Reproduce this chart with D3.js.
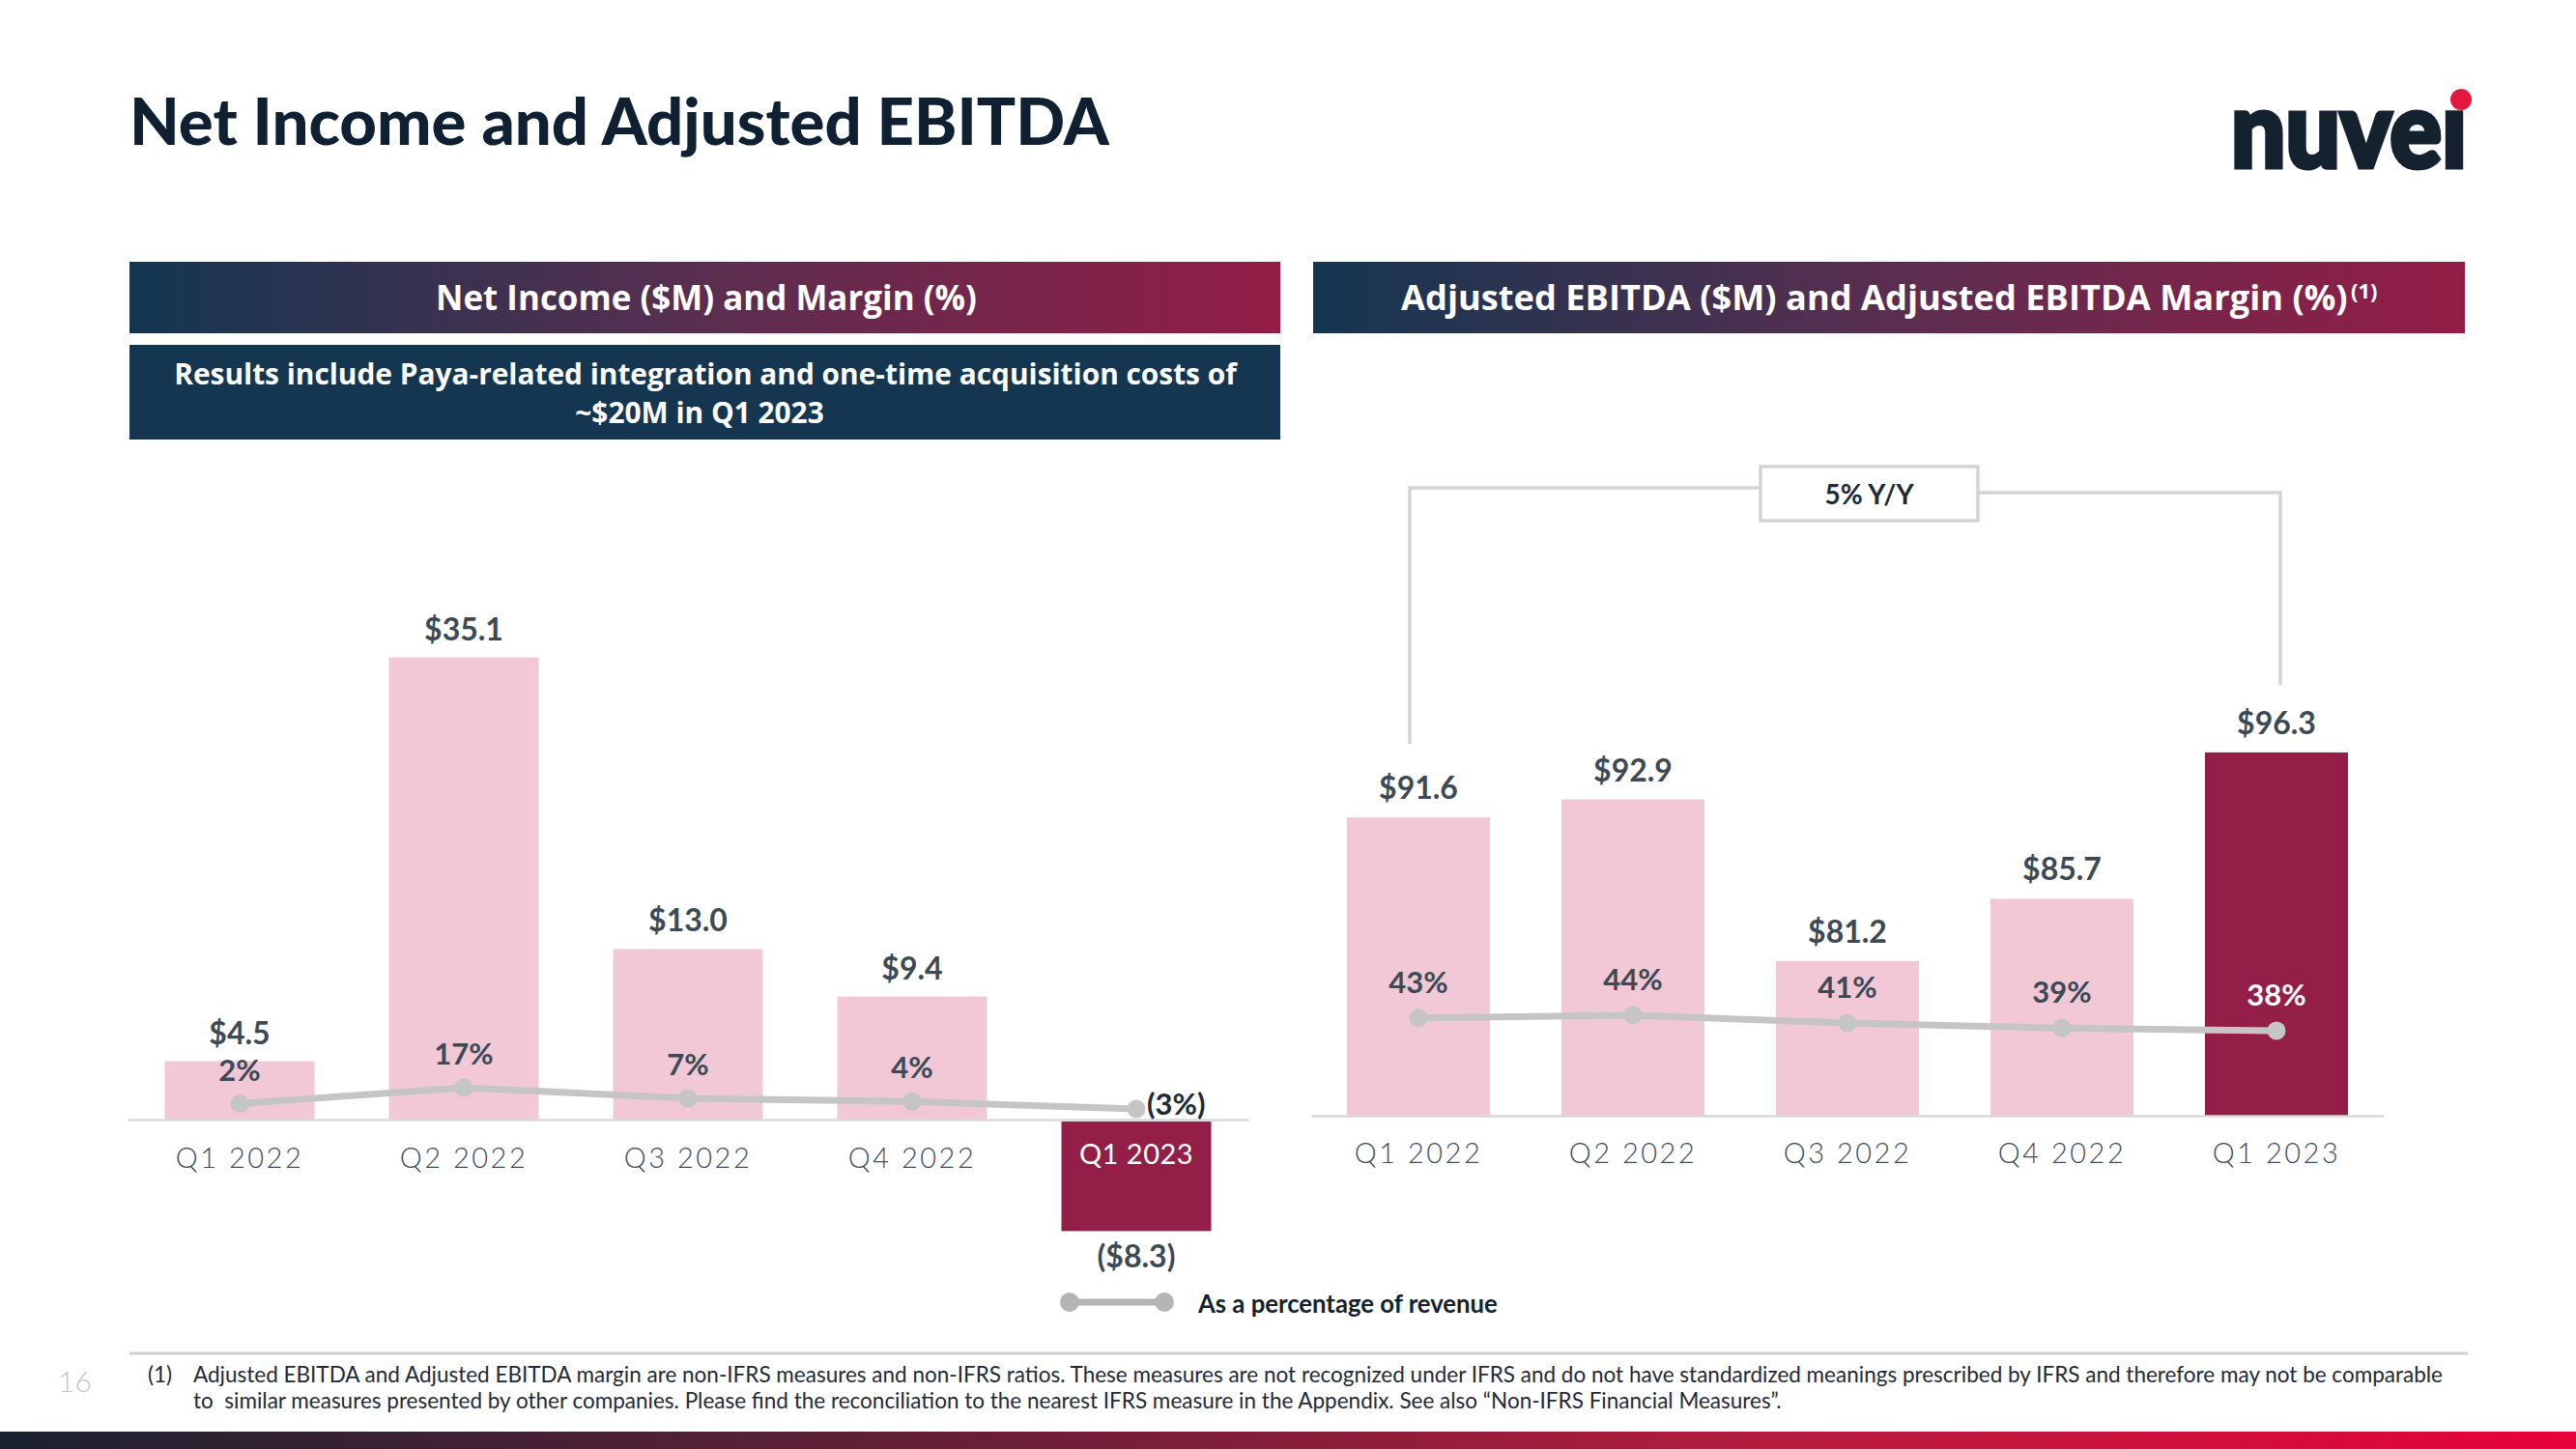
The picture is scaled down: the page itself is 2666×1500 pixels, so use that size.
<!DOCTYPE html>
<html><head><meta charset="utf-8">
<script src="https://cdn.jsdelivr.net/npm/d3@7"></script>
<style>
body{margin:0;background:#fff;}
svg{display:block;font-family:Lato,'Open Sans',sans-serif;}
</style>
</head><body>
<svg id="c" width="2666" height="1500"></svg>
<script>
// ---------- data ----------
const quarters = ["Q1 2022", "Q2 2022", "Q3 2022", "Q4 2022", "Q1 2023"];
const netIncome = [4.5, 35.1, 13.0, 9.4, -8.3];
const netMargin = [2, 17, 7, 4, -3];
const ebitda = [91.6, 92.9, 81.2, 85.7, 96.3];
const ebitdaMargin = [43, 44, 41, 39, 38];
const netIncomeLabels = ["$4.5", "$35.1", "$13.0", "$9.4", "($8.3)"];
const netMarginLabels = ["2%", "17%", "7%", "4%", "(3%)"];
const ebitdaLabels = ["$91.6", "$92.9", "$81.2", "$85.7", "$96.3"];
const ebitdaMarginLabels = ["43%", "44%", "41%", "39%", "38%"];
const growthLabel = "5% Y/Y";

const PINK = "#f2c8d6", MAROON = "#931e48", TXT = "#3b4a55", LINE = "#c5c5c5";
const HF = "'Open Sans', Lato, sans-serif";
const svg = d3.select("#c");

function fit(sel, w) {
  const fs = parseFloat(sel.attr("font-size"));
  const L = sel.node().getComputedTextLength();
  sel.attr("font-size", fs * w / L);
  return sel;
}

// ---------- gradients ----------
const defs = svg.append("defs");
const g1 = defs.append("linearGradient").attr("id", "hdr");
g1.append("stop").attr("offset", "0%").attr("stop-color", "#133650");
g1.append("stop").attr("offset", "50%").attr("stop-color", "#5a2e50");
g1.append("stop").attr("offset", "100%").attr("stop-color", "#931d46");
const g2 = defs.append("linearGradient").attr("id", "bot");
g2.append("stop").attr("offset", "0%").attr("stop-color", "#1b2230");
g2.append("stop").attr("offset", "40%").attr("stop-color", "#6d1f38");
g2.append("stop").attr("offset", "70%").attr("stop-color", "#b81c3e");
g2.append("stop").attr("offset", "100%").attr("stop-color", "#e6023b");

// ---------- title & logo ----------
fit(svg.append("text").attr("x", 134).attr("y", 150).attr("font-size", 64)
  .attr("font-weight", 900).attr("fill", "#0e2031").text("Net Income and Adjusted EBITDA"), 1014);

svg.append("text").attr("x", 2309).attr("y", 173).attr("font-size", 108)
  .attr("font-weight", 900).attr("fill", "#14212e").attr("stroke", "#14212e").attr("stroke-width", 5)
  .attr("textLength", 244).attr("lengthAdjust", "spacingAndGlyphs").text("nuv\u0065\u0131");
svg.append("circle").attr("cx", 2547).attr("cy", 103).attr("r", 11).attr("fill", "#e4173e");

// ---------- headers ----------
svg.append("rect").attr("x", 134).attr("y", 271).attr("width", 1191).attr("height", 74).attr("fill", "url(#hdr)");
fit(svg.append("text").attr("x", 731).attr("y", 321).attr("text-anchor", "middle").attr("font-size", 31)
  .attr("font-family", HF).attr("font-weight", 700).attr("fill", "#fff").text("Net Income ($M) and Margin (%)"), 560);

svg.append("rect").attr("x", 134).attr("y", 357).attr("width", 1191).attr("height", 98).attr("fill", "#143650");
const nb1 = fit(svg.append("text").attr("x", 730).attr("y", 398).attr("text-anchor", "middle").attr("font-size", 27)
  .attr("font-family", HF).attr("font-weight", 700).attr("fill", "#fff")
  .text("Results include Paya-related integration and one-time acquisition costs of"), 1100);
svg.append("text").attr("x", 724).attr("y", 438).attr("text-anchor", "middle").attr("font-size", nb1.attr("font-size"))
  .attr("font-family", HF).attr("font-weight", 700).attr("fill", "#fff").text("~$20M in Q1 2023");

svg.append("rect").attr("x", 1359).attr("y", 271).attr("width", 1192).attr("height", 74).attr("fill", "url(#hdr)");
fit(svg.append("text").attr("x", 1450).attr("y", 321).attr("font-size", 31)
  .attr("font-family", HF).attr("font-weight", 700).attr("fill", "#fff")
  .text("Adjusted EBITDA ($M) and Adjusted EBITDA Margin (%)"), 980);
svg.append("text").attr("x", 2433).attr("y", 309).attr("font-size", 22)
  .attr("font-family", HF).attr("font-weight", 700).attr("fill", "#fff").text("(1)");

// ---------- left chart ----------
const x1 = d3.scaleBand().domain(quarters).range([132, 1292]).paddingInner(0.332).paddingOuter(0.166);
const y1 = d3.scaleLinear().domain([-10, 40]).range([1160 + 136.6, 1160 - 546.4]);
const m1 = d3.scaleLinear().domain([-3, 17]).range([1148, 1126]);
const L = svg.append("g");
const cx1 = (i) => x1(quarters[i]) + x1.bandwidth() / 2;

L.selectAll("rect.bar").data(netIncome).join("rect").attr("class", "bar")
  .attr("x", (d, i) => x1(quarters[i])).attr("width", x1.bandwidth())
  .attr("y", d => d >= 0 ? y1(d) : y1(0) + 1)
  .attr("height", d => Math.abs(y1(d) - y1(0)))
  .attr("fill", (d, i) => i === 4 ? MAROON : PINK);

const ax1 = L.append("g").attr("transform", "translate(0,1159)")
  .call(d3.axisBottom(x1).tickSize(0).tickSizeOuter(0));
ax1.select(".domain").attr("stroke", "#d9d9d9").attr("stroke-width", 2.5);
ax1.selectAll(".tick text").attr("y", 40).attr("dy", "0.35em")
  .attr("font-family", "Lato").attr("font-weight", 300).attr("font-size", 29)
  .attr("letter-spacing", 2.5).attr("fill", "#3f4e59");
ax1.selectAll(".tick text").filter((d, i) => i === 4)
  .attr("y", 36).attr("fill", "#fff").attr("letter-spacing", 0.5).attr("font-weight", 400);

L.selectAll("text.val").data(netIncome).join("text").attr("class", "val")
  .attr("x", (d, i) => cx1(i)).attr("y", d => d >= 0 ? y1(d) - 18 : y1(d) + 39)
  .attr("text-anchor", "middle").attr("font-size", 32).attr("font-weight", 700).attr("fill", TXT)
  .text((d, i) => netIncomeLabels[i]);

L.append("path").datum(netMargin).attr("fill", "none").attr("stroke", LINE).attr("stroke-width", 7)
  .attr("d", d3.line().x((d, i) => cx1(i)).y(d => m1(d)));
L.selectAll("circle.pt").data(netMargin).join("circle").attr("class", "pt")
  .attr("cx", (d, i) => cx1(i)).attr("cy", d => m1(d)).attr("r", 9.5).attr("fill", LINE);
L.selectAll("text.pct").data(netMargin).join("text").attr("class", "pct")
  .attr("x", (d, i) => i === 4 ? cx1(i) + 11 : cx1(i))
  .attr("y", (d, i) => i === 4 ? m1(d) + 6 : m1(d) - 24)
  .attr("text-anchor", (d, i) => i === 4 ? "start" : "middle")
  .attr("font-size", 31).attr("font-weight", 700).attr("fill", (d, i) => i === 4 ? "#1d2b36" : TXT)
  .text((d, i) => netMarginLabels[i]);

// ---------- right chart ----------
const x2 = d3.scaleBand().domain(quarters).range([1357, 2467]).paddingInner(0.333).paddingOuter(0.1665);
const y2 = d3.scaleLinear().domain([70, 100]).range([1155, 1155 - 429]);
const m2 = d3.scaleLinear().domain([38, 44]).range([1067, 1051]);
const R = svg.append("g");
const cx2 = (i) => x2(quarters[i]) + x2.bandwidth() / 2;

R.selectAll("rect.bar").data(ebitda).join("rect").attr("class", "bar")
  .attr("x", (d, i) => x2(quarters[i])).attr("width", x2.bandwidth())
  .attr("y", d => y2(d)).attr("height", d => y2(70) - y2(d))
  .attr("fill", (d, i) => i === 4 ? MAROON : PINK);

const ax2 = R.append("g").attr("transform", "translate(0,1155)")
  .call(d3.axisBottom(x2).tickSize(0).tickSizeOuter(0));
ax2.select(".domain").attr("stroke", "#d9d9d9").attr("stroke-width", 2.5);
ax2.selectAll(".tick text").attr("y", 39).attr("dy", "0.35em")
  .attr("font-family", "Lato").attr("font-weight", 300).attr("font-size", 29)
  .attr("letter-spacing", 2.5).attr("fill", "#3f4e59");

R.selectAll("text.val").data(ebitda).join("text").attr("class", "val")
  .attr("x", (d, i) => cx2(i)).attr("y", d => y2(d) - 19)
  .attr("text-anchor", "middle").attr("font-size", 32).attr("font-weight", 700).attr("fill", TXT)
  .text((d, i) => ebitdaLabels[i]);

R.append("path").datum(ebitdaMargin).attr("fill", "none").attr("stroke", LINE).attr("stroke-width", 7)
  .attr("d", d3.line().x((d, i) => cx2(i)).y(d => m2(d)));
R.selectAll("circle.pt").data(ebitdaMargin).join("circle").attr("class", "pt")
  .attr("cx", (d, i) => cx2(i)).attr("cy", d => m2(d)).attr("r", 9.5).attr("fill", LINE);
R.selectAll("text.pct").data(ebitdaMargin).join("text").attr("class", "pct")
  .attr("x", (d, i) => cx2(i)).attr("y", d => m2(d) - 26)
  .attr("text-anchor", "middle").attr("font-size", 31).attr("font-weight", 700)
  .attr("fill", (d, i) => i === 4 ? "#fff" : TXT)
  .text((d, i) => ebitdaMarginLabels[i]);

// growth bracket
const bx0 = 1822, bx1 = 2047, by0 = 483, by1 = 539;
const brk = R.append("g").attr("fill", "none").attr("stroke", "#d4d4d4").attr("stroke-width", 3.5);
brk.append("path").attr("d", `M${cx2(0) - 9},${y2(ebitda[0]) - 76}V505H${bx0}`);
brk.append("path").attr("d", `M${bx1},510H${cx2(4) + 4}V${y2(ebitda[4]) - 70}`);
brk.append("rect").attr("x", bx0).attr("y", by0).attr("width", bx1 - bx0).attr("height", by1 - by0).attr("fill", "#fff");
R.append("text").attr("x", (bx0 + bx1) / 2).attr("y", 522).attr("text-anchor", "middle")
  .attr("font-size", 28).attr("font-weight", 700).attr("fill", "#1d2b36").text(growthLabel);

// ---------- legend ----------
svg.append("line").attr("x1", 1107).attr("x2", 1205).attr("y1", 1348).attr("y2", 1348)
  .attr("stroke", "#b5b5b5").attr("stroke-width", 7);
[1107, 1205].forEach(x => svg.append("circle").attr("cx", x).attr("cy", 1348).attr("r", 10).attr("fill", "#b5b5b5"));
fit(svg.append("text").attr("x", 1240).attr("y", 1359).attr("font-size", 25).attr("font-weight", 700)
  .attr("fill", "#14222f").text("As a percentage of revenue"), 310);

// ---------- footer ----------
svg.append("line").attr("x1", 134).attr("x2", 2554).attr("y1", 1401).attr("y2", 1401)
  .attr("stroke", "#d0d0d0").attr("stroke-width", 3);
svg.append("text").attr("x", 60).attr("y", 1441).attr("font-size", 30).attr("font-weight", 300)
  .attr("fill", "#c5c5c5").text("16");
const fn1 = fit(svg.append("text").attr("x", 200).attr("y", 1431).attr("font-size", 20).attr("fill", "#1f2a36")
  .text("Adjusted EBITDA and Adjusted EBITDA margin are non-IFRS measures and non-IFRS ratios. These measures are not recognized under IFRS and do not have standardized meanings prescribed by IFRS and therefore may not be comparable"), 2328);
svg.append("text").attr("x", 153).attr("y", 1431).attr("font-size", fn1.attr("font-size")).attr("fill", "#1f2a36").text("(1)");
svg.append("text").attr("x", 200).attr("y", 1458).attr("font-size", fn1.attr("font-size")).attr("fill", "#1f2a36")
  .attr("xml:space", "preserve")
  .text("to  similar measures presented by other companies. Please find the reconciliation to the nearest IFRS measure in the Appendix. See also \u201cNon-IFRS Financial Measures\u201d.");
svg.append("rect").attr("x", 0).attr("y", 1482).attr("width", 2666).attr("height", 18).attr("fill", "url(#bot)");
</script>
</body></html>
